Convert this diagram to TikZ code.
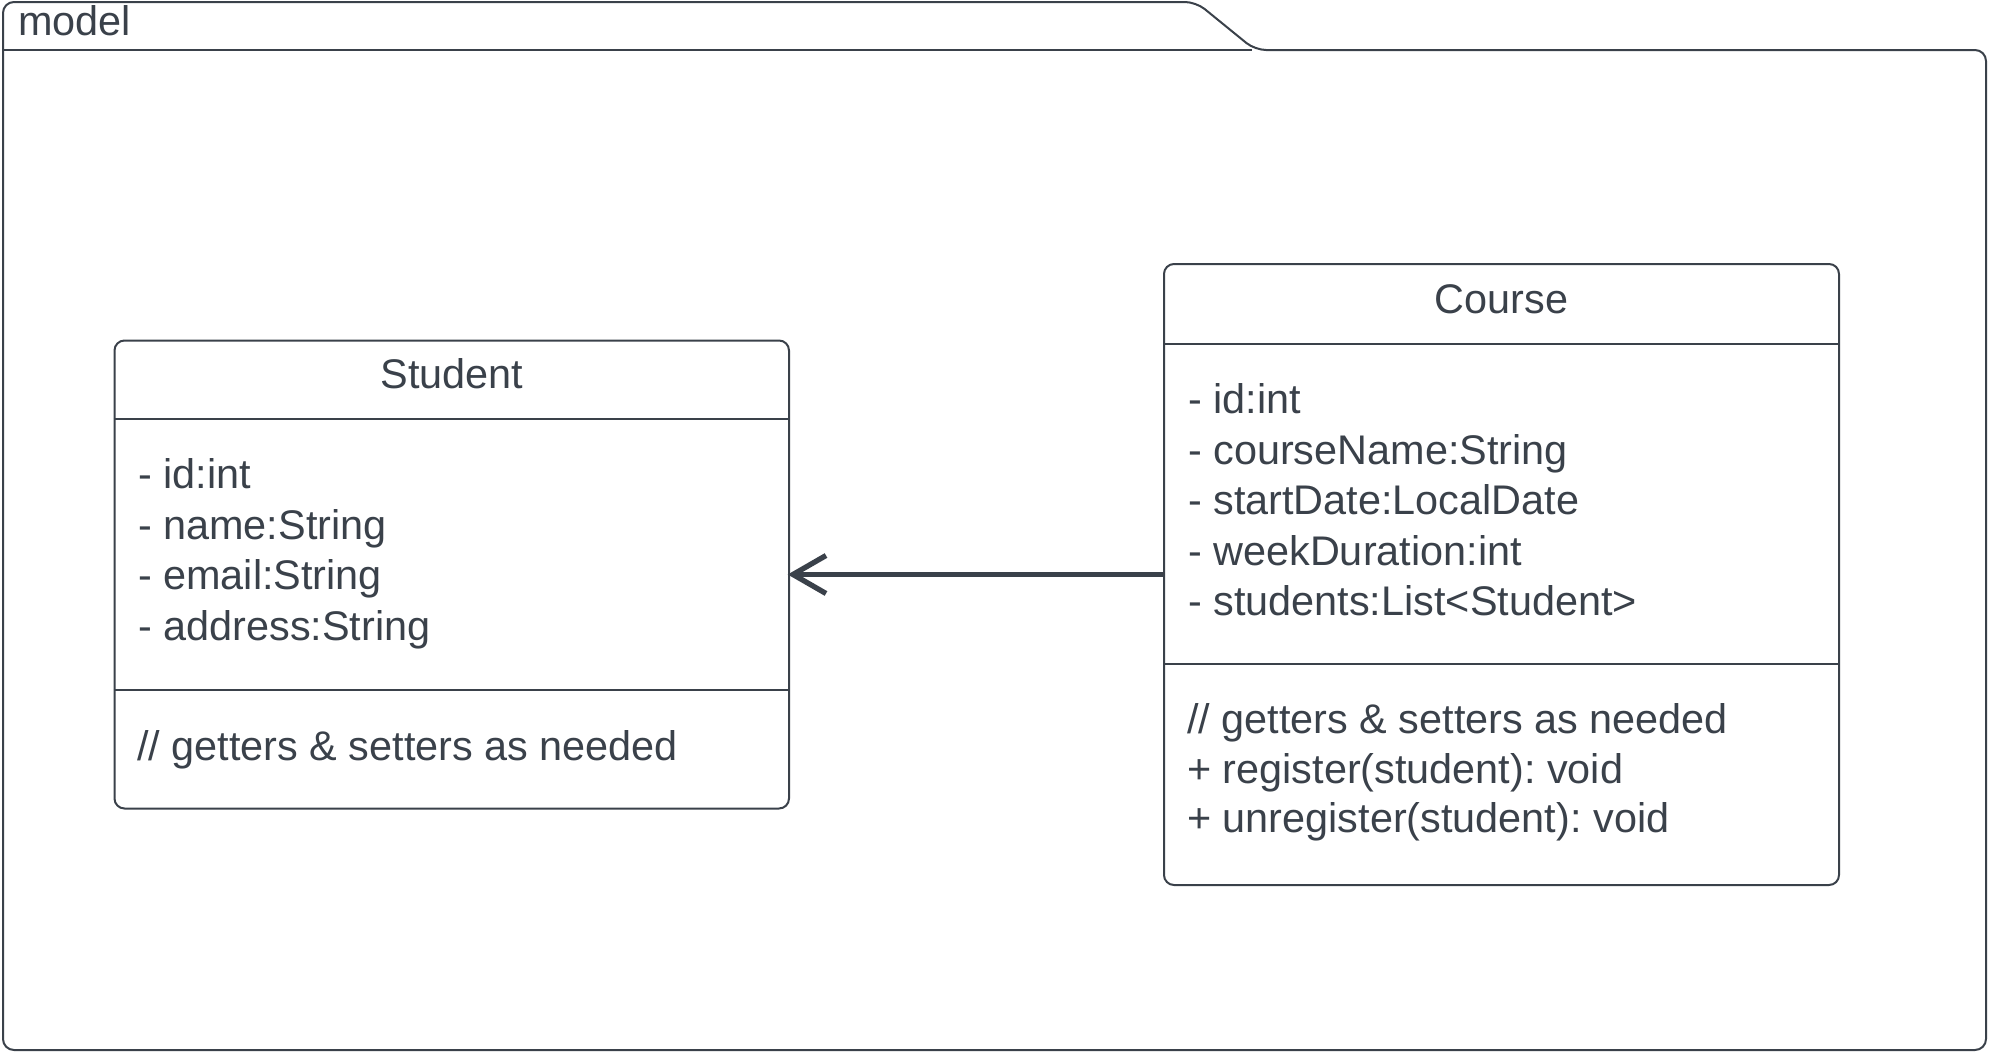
\documentclass[tikz,border=0pt]{standalone}
\usepackage{fontspec}
\setmainfont{Liberation Sans}
\definecolor{ink}{HTML}{3A414A}
\tikzset{
  pkg/.style={draw=ink, line width=2pt, rounded corners=11pt},
  cls/.style={draw=ink, line width=2pt, rounded corners=10pt, inner sep=0pt},
  sepline/.style={draw=ink, line width=1.6pt},
  txt/.style={text=ink, inner sep=0pt, font=\fontsize{41.4}{50.7}\selectfont\frenchspacing},
  assoc/.style={draw=ink, line width=5.3pt},
  barb/.style={draw=ink, line width=5.3pt, line join=miter, miter limit=10}
}
\begin{document}
\begin{tikzpicture}[x=1pt,y=-1pt]
\useasboundingbox (0,0) rectangle (1989,1052);
% package
\draw[pkg] (3,1050) -- (3,2) -- (1196,2) -- (1255,50) -- (1986,50) -- (1986,1050) -- cycle;
\draw[sepline, line width=2pt] (3,50) -- (1252,50);
\node[txt, anchor=base west] (pkgname) at (18,35) {model};
% Student
\node[cls, minimum width=674.5pt, minimum height=468pt] (student) at (451.75,574.5) {};
\draw[sepline] (student.west |- 0,419) -- (student.east |- 0,419);
\draw[sepline] (student.west |- 0,690) -- (student.east |- 0,690);
\node[txt, anchor=base] (stitle) at (451.75,388) {Student};
\node[txt, anchor=base west] (sa1) at (138,488) {- id:int};
\node[txt, anchor=base west] (sa2) at (138,539) {- name:String};
\node[txt, anchor=base west] (sa3) at (138,589) {- email:String};
\node[txt, anchor=base west] (sa4) at (138,640) {- address:String};
\node[txt, anchor=base west] (sm1) at (137,760) {// getters \& setters as needed};
% Course
\node[cls, minimum width=675pt, minimum height=621pt] (course) at (1501.5,574.5) {};
\draw[sepline] (course.west |- 0,344) -- (course.east |- 0,344);
\draw[sepline] (course.west |- 0,664) -- (course.east |- 0,664);
\node[txt, anchor=base] (ctitle) at (1501.5,313) {Course};
\node[txt, anchor=base west] (ca1) at (1188,413) {- id:int};
\node[txt, anchor=base west] (ca2) at (1188,464) {- courseName:String};
\node[txt, anchor=base west] (ca3) at (1188,514) {- startDate:LocalDate};
\node[txt, anchor=base west] (ca4) at (1188,565) {- weekDuration:int};
\node[txt, anchor=base west] (ca5) at (1188,615) {- students:List<Student>};
\node[txt, anchor=base west] (cm1) at (1187,733) {// getters \& setters as needed};
\node[txt, anchor=base west] (cm2) at (1187,783) {+ register(student): void};
\node[txt, anchor=base west] (cm3) at (1187,832) {+ unregister(student): void};
% association
\draw[assoc] (course.west) -- ([xshift=3pt]student.east);
\draw[barb] ([xshift=36pt,yshift=19pt]student.east) -- ([xshift=3pt]student.east) -- ([xshift=36pt,yshift=-19pt]student.east);
\end{tikzpicture}
\end{document}
